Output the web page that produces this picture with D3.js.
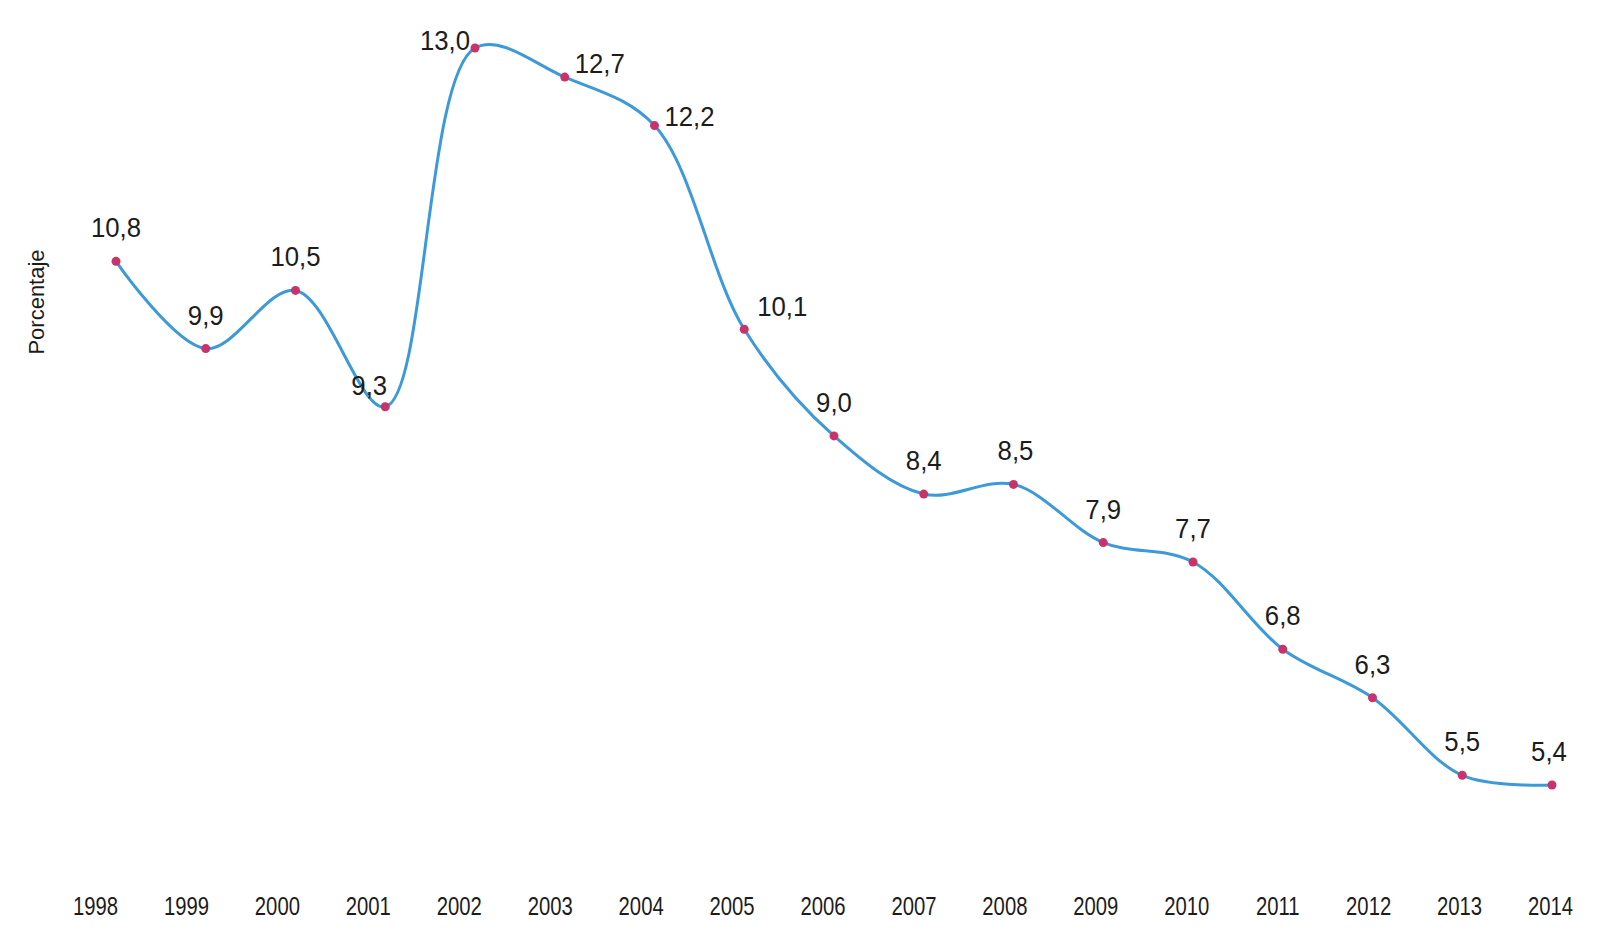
<!DOCTYPE html>
<html>
<head>
<meta charset="utf-8">
<script src="https://cdn.jsdelivr.net/npm/d3@7"></script>
<style>
  html, body { margin: 0; padding: 0; background: #fff; }
  svg { display: block; font-family: "Liberation Sans", Arial, sans-serif; }
</style>
</head>
<body>
<svg id="chart"></svg>
<script>
// Porcentaje por año, 1998-2014
const years = ['1998','1999','2000','2001','2002','2003','2004','2005','2006',
               '2007','2008','2009','2010','2011','2012','2013','2014'];
const values = [10.8, 9.9, 10.5, 9.3, 13.0, 12.7, 12.2, 10.1, 9.0,
                8.4, 8.5, 7.9, 7.7, 6.8, 6.3, 5.5, 5.4];
const yLabel = 'Porcentaje';

const width = 1600, height = 933;

const svg = d3.select('#chart')
  .attr('width', width)
  .attr('height', height);

// Label offsets (dx, dy of baseline from the point) to mimic the original placement
const labelOffsets = {
  '2001': { dx: -16, dy: -12 },
  '2002': { dx: -30, dy: 2 },
  '2003': { dx: 35, dy: -4 },
  '2004': { dx: 35, dy: 0 },
  '2005': { dx: 38, dy: -13 },
  '2008': { dx: 2, dy: -24 },
  '2014': { dx: -3, dy: -24 }
};

// Scales
const xAxisScale = d3.scalePoint().domain(years).range([95, 1550]);
const xScale = d3.scalePoint().domain(years).range([116, 1552]);
const yScale = d3.scaleLinear().domain([5.4, 13.0]).range([785, 48]);

const data = years.map((y, i) => ({ year: y, value: values[i] }));
const fmt = v => d3.format('.1f')(v).replace('.', ',');

// Year axis (labels only, no line or ticks)
const xAxis = svg.append('g')
  .attr('transform', 'translate(0,915)')
  .call(d3.axisBottom(xAxisScale).tickSize(0).tickPadding(0));
xAxis.select('.domain').remove();
xAxis.selectAll('.tick text')
  .attr('y', 0)
  .attr('dy', 0)
  .attr('fill', '#1c1c1c')
  .style('font-size', '26px')
  .attr('transform', 'scale(0.78,1)');  // narrow type as in the original

// Y label
svg.append('text')
  .attr('transform', 'translate(44,302) rotate(-90)')
  .attr('text-anchor', 'middle')
  .attr('fill', '#1c1c1c')
  .style('font-size', '22px')
  .text(yLabel);

// Line
const line = d3.line()
  .x(d => xScale(d.year))
  .y(d => yScale(d.value))
  .curve(d3.curveCatmullRom.alpha(0.5));

svg.append('path')
  .datum(data)
  .attr('fill', 'none')
  .attr('stroke', '#3d9ad8')
  .attr('stroke-width', 3)
  .attr('d', line);

// Points
svg.selectAll('circle.pt')
  .data(data)
  .join('circle')
  .attr('class', 'pt')
  .attr('cx', d => xScale(d.year))
  .attr('cy', d => yScale(d.value))
  .attr('r', 4.5)
  .attr('fill', '#c8336c');

// Value labels
svg.selectAll('g.lbl')
  .data(data)
  .join('g')
  .attr('class', 'lbl')
  .attr('transform', d => {
    const o = labelOffsets[d.year] || { dx: 0, dy: -24 };
    return `translate(${xScale(d.year) + o.dx},${yScale(d.value) + o.dy})`;
  })
  .append('text')
  .attr('text-anchor', 'middle')
  .attr('transform', 'scale(0.92,1)')
  .attr('fill', '#1c1c1c')
  .style('font-size', '28px')
  .text(d => fmt(d.value));
</script>
</body>
</html>
